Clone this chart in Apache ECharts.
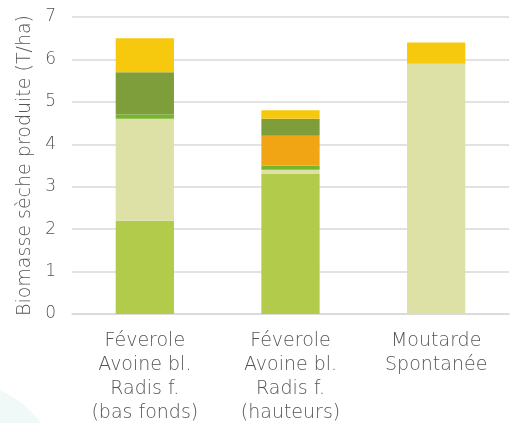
<!DOCTYPE html>
<html>
<head>
<meta charset="utf-8">
<script src="https://cdn.jsdelivr.net/npm/echarts@6/dist/echarts.min.js"></script>
<style>
  html, body { margin: 0; padding: 0; background: #ffffff; }
  #chart { width: 511px; height: 423px; }
</style>
</head>
<body>
<div id="chart"></div>
<script>
// Couverts végétaux : biomasse sèche par fraction (T/ha)
const categories = [
  'Féverole\nAvoine bl.\nRadis f.\n(bas fonds)',
  'Féverole\nAvoine bl.\nRadis f.\n(hauteurs)',
  'Moutarde\nSpontanée'
];
const fraction1 = [2.2, 3.3, 0];
const fraction2 = [2.4, 0.1, 5.9];
const fraction3 = [0.1, 0.1, 0];
const fraction4 = [0, 0.7, 0];
const fraction5 = [1.0, 0.4, 0];
const fraction6 = [0.8, 0.2, 0.5];
const yTicks = [0, 1, 2, 3, 4, 5, 6, 7];

const layers = [
  { name: 'fraction1', data: fraction1, color: '#B3CB4B' },
  { name: 'fraction2', data: fraction2, color: '#DDE1A6' },
  { name: 'fraction3', data: fraction3, color: '#77B52F' },
  { name: 'fraction4', data: fraction4, color: '#F2A514' },
  { name: 'fraction5', data: fraction5, color: '#7E9E3B' },
  { name: 'fraction6', data: fraction6, color: '#F6C90E' }
];

const font = '"DejaVu Sans", sans-serif';
const weight = 300;
const textColor = '#555555';
const chart = echarts.init(document.getElementById('chart'), null, { renderer: 'canvas' });

chart.setOption({
  backgroundColor: '#ffffff',
  animation: false,
  graphic: [{
    type: 'circle',
    shape: { cx: -40, cy: 482, r: 100 },
    style: { fill: '#F1F8F8' },
    z: -10
  }],
  grid: { left: 72, right: 2, top: 17, bottom: 109, outerBoundsMode: 'none', containLabel: false },
  xAxis: {
    type: 'category',
    data: categories,
    axisLine: { lineStyle: { color: '#D9D9D9', width: 1.5 } },
    axisTick: { show: false },
    axisLabel: {
      color: textColor,
      fontFamily: font,
      fontWeight: weight,
      fontSize: 19,
      lineHeight: 24,
      margin: 15,
      interval: 0
    }
  },
  yAxis: {
    type: 'value',
    min: yTicks[0],
    max: yTicks[yTicks.length - 1],
    interval: 1,
    name: 'Biomasse sèche produite (T/ha)',
    nameLocation: 'middle',
    nameGap: 32,
    nameTextStyle: { color: textColor, fontFamily: font, fontWeight: weight, fontSize: 19 },
    axisLine: { show: false },
    axisTick: { show: false },
    splitLine: { lineStyle: { color: '#D9D9D9', width: 1.5 } },
    axisLabel: { color: textColor, fontFamily: font, fontWeight: weight, fontSize: 17, margin: 16 }
  },
  series: layers.map(l => ({
    name: l.name,
    type: 'bar',
    stack: 'biomasse',
    data: l.data,
    barWidth: '40%',
    itemStyle: { color: l.color },
    emphasis: { disabled: true }
  }))
});
</script>
</body>
</html>
